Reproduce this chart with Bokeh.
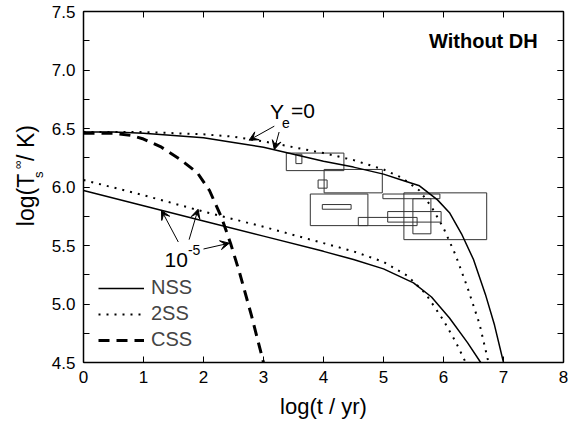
import math
from bokeh.plotting import figure
from bokeh.layouts import row
from bokeh.models import (Range1d, LinearAxis, SingleIntervalTicker, Label, Arrow,
                          VeeHead, Legend, LegendItem, PrintfTickFormatter,
                          CustomJSTickFormatter)
from bokeh.embed import file_html
from bokeh.resources import INLINE

# ---------------- data ----------------
# NSS (solid) and 2SS (dotted), Ye = 0
nss_ye0_x = [0, 0.5, 1, 1.5, 2, 2.5, 3, 3.5, 4, 4.5, 5, 5.3, 5.6, 5.9, 6.1, 6.3, 6.5, 6.7, 6.85, 7.0]
nss_ye0_y = [6.47, 6.47, 6.46, 6.44, 6.42, 6.38, 6.34, 6.28, 6.22, 6.17, 6.11, 6.06, 6.01, 5.89, 5.78, 5.60, 5.38, 5.08, 4.82, 4.5]
ss2_ye0_x = [0, 0.5, 1, 1.5, 2, 2.5, 3, 3.5, 4, 4.5, 5, 5.3, 5.6, 5.8, 6.0, 6.2, 6.4, 6.6, 6.75]
ss2_ye0_y = [6.47, 6.47, 6.47, 6.46, 6.45, 6.43, 6.39, 6.34, 6.29, 6.23, 6.15, 6.08, 5.97, 5.83, 5.65, 5.42, 5.14, 4.83, 4.5]
# NSS (solid) and 2SS (dotted), Ye = 1e-5
nss_ye5_x = [0, 1, 2, 3, 4, 4.5, 5, 5.5, 5.8, 6.1, 6.4, 6.62]
nss_ye5_y = [5.97, 5.84, 5.71, 5.58, 5.45, 5.38, 5.30, 5.18, 5.06, 4.88, 4.67, 4.5]
ss2_ye5_x = [0, 1, 2, 3, 4, 4.5, 5, 5.4, 5.7, 6.0, 6.2, 6.37]
ss2_ye5_y = [6.06, 5.93, 5.79, 5.66, 5.52, 5.45, 5.36, 5.24, 5.09, 4.86, 4.68, 4.5]
# CSS (dashed)
css_x = [0, 0.5, 0.8, 1.0, 1.3, 1.6, 1.9, 2.1, 2.3, 2.45, 2.6, 2.8, 3.0]
css_y = [6.46, 6.46, 6.44, 6.41, 6.34, 6.24, 6.12, 5.97, 5.74, 5.52, 5.27, 4.9, 4.5]

# observational error boxes (log t range, log T range)
box_left   = [3.38, 3.54, 4.01, 3.91, 3.78, 3.98, 4.58, 4.99, 5.34, 5.07, 5.49]
box_right  = [4.34, 3.64, 4.98, 4.06, 4.74, 4.46, 5.56, 5.94, 6.72, 5.96, 5.79]
box_bottom = [6.14, 6.20, 5.95, 5.99, 5.67, 5.81, 5.67, 5.90, 5.55, 5.70, 5.60]
box_top    = [6.29, 6.28, 6.15, 6.06, 5.94, 5.85, 5.74, 5.94, 5.95, 5.79, 5.90]

legend_labels = ["NSS", "2SS", "CSS"]

FONT = "Liberation Sans"
W, H = 573, 430
LW = 48  # width of the strip carrying the y-axis title

p = figure(width=W - LW, height=H, output_backend="svg", toolbar_location=None,
           x_range=Range1d(0, 8), y_range=Range1d(4.5, 7.5),
           min_border_left=82 - LW, min_border_right=10, min_border_top=11, min_border_bottom=68)
p.background_fill_color = "white"
p.border_fill_color = "white"
p.outline_line_color = None
p.xgrid.visible = False
p.ygrid.visible = False

# main axes
xax = p.xaxis[0]
yax = p.yaxis[0]
xax.ticker = SingleIntervalTicker(interval=1, num_minor_ticks=0)
yax.ticker = SingleIntervalTicker(interval=0.5, num_minor_ticks=2)
yax.formatter = PrintfTickFormatter(format="%.1f")
for ax in (xax, yax):
    ax.axis_line_width = 1.5
    ax.axis_line_color = "black"
    ax.major_tick_in = 6
    ax.major_tick_out = 0
    ax.minor_tick_in = 6
    ax.minor_tick_out = 0
    ax.major_tick_line_color = "black"
    ax.minor_tick_line_color = "black"
    ax.major_label_text_font = FONT
    ax.major_label_text_font_size = "17px"
    ax.major_label_text_color = "black"
xax.major_label_standoff = 8
yax.major_label_standoff = 8
xax.axis_label = "log(t / yr)"
xax.axis_label_text_font = FONT
xax.axis_label_text_font_size = "22px"
xax.axis_label_text_font_style = "normal"
xax.axis_label_text_color = "black"
xax.axis_label_standoff = 8

# mirror axes (top/right), ticks only
top = LinearAxis(ticker=SingleIntervalTicker(interval=1, num_minor_ticks=0))
right = LinearAxis(ticker=SingleIntervalTicker(interval=0.5, num_minor_ticks=2))
for ax in (top, right):
    ax.axis_line_width = 1.5
    ax.major_tick_in = 6
    ax.major_tick_out = 0
    ax.minor_tick_in = 6
    ax.minor_tick_out = 0
    ax.formatter = CustomJSTickFormatter(code="return ''")
    ax.major_label_text_font_size = "0px"
    ax.major_label_standoff = 0
p.add_layout(top, "above")
p.add_layout(right, "right")

# boxes
p.quad(left=box_left, right=box_right, bottom=box_bottom, top=box_top,
       fill_color=None, line_color="#333333", line_width=1)

# curves
r_nss = p.line(nss_ye0_x, nss_ye0_y, line_color="black", line_width=1.5)
p.line(nss_ye5_x, nss_ye5_y, line_color="black", line_width=1.5)
r_2ss = p.line(ss2_ye0_x, ss2_ye0_y, line_color="black", line_width=2, line_dash="2 6")
p.line(ss2_ye5_x, ss2_ye5_y, line_color="black", line_width=2, line_dash="2 6")
r_css = p.line(css_x, css_y, line_color="black", line_width=3, line_dash="11 7")

legend = Legend(items=[LegendItem(label=legend_labels[0], renderers=[r_nss]),
                       LegendItem(label=legend_labels[1], renderers=[r_2ss]),
                       LegendItem(label=legend_labels[2], renderers=[r_css])],
                location=(15, 11), padding=0, margin=0, spacing=3,
                glyph_width=46, glyph_height=20, label_height=20, label_standoff=7,
                label_text_font=FONT, label_text_font_size="20px",
                border_line_color=None, background_fill_alpha=0)
p.add_layout(legend)

# texts (anchored at the bottom of the text box)
def lab(fig, x, y, t, size, **kw):
    kw.setdefault("text_baseline", "bottom")
    fig.add_layout(Label(x=x, y=y, text=t, text_font=FONT, text_font_size=size,
                         text_color="black", **kw))

lab(p, 7.57, 7.156, "Without DH", "20px", text_align="right", text_font_style="bold")
lab(p, 3.11, 6.548, "Y", "21px")
lab(p, 3.31, 6.508, "e", "14px")
lab(p, 3.46, 6.556, "=0", "21px")
lab(p, 1.35, 5.32, "10", "21px")
lab(p, 1.74, 5.42, "-5", "14px")

# arrows
arrows = [
    (3.18, 6.52, 2.76, 6.40),
    (3.26, 6.47, 3.18, 6.32),
    (1.58, 5.53, 1.30, 5.80),
    (1.76, 5.55, 1.91, 5.81),
    (2.00, 5.47, 2.43, 5.52),
]
for xs, ys, xe, ye in arrows:
    p.add_layout(Arrow(end=VeeHead(size=9, fill_color="black", line_color="black", line_width=1),
                       x_start=xs, y_start=ys, x_end=xe, y_end=ye,
                       line_color="black", line_width=1))

# ---- strip on the left carrying the y-axis title (pixel coordinates) ----
q = figure(width=LW, height=H, output_backend="svg", toolbar_location=None,
           x_range=Range1d(0, LW), y_range=Range1d(0, H),
           min_border_left=0, min_border_right=0, min_border_top=0, min_border_bottom=0)
q.axis.visible = False
q.xgrid.visible = False
q.ygrid.visible = False
q.outline_line_color = None
q.background_fill_color = "white"
q.border_fill_color = "white"

def ylab(px, py, t, size):
    lab(q, px, H - py, t, size, angle=math.pi / 2)

ylab(38.8, 263, "log(T", "23px")
ylab(45.5, 204, "s", "13px")
ylab(24.5, 193, "\u221e", "12px")
ylab(38.8, 183, " / K)", "23px")

layout = row(q, p, spacing=0)
open("out.html", "w").write(file_html(layout, INLINE))
